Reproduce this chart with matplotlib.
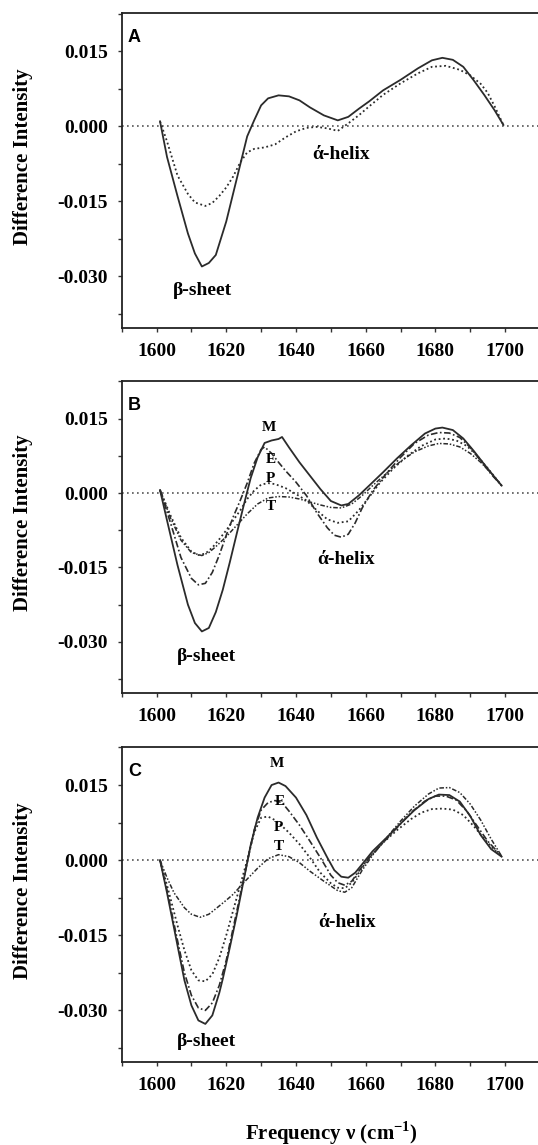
import matplotlib
matplotlib.use("Agg")
import matplotlib.pyplot as plt
from matplotlib.ticker import MultipleLocator

plt.rcParams['font.family'] = ['Liberation Serif', 'DejaVu Serif']
plt.rcParams['font.weight'] = 'bold'
plt.rcParams['mathtext.fontset'] = 'custom'
plt.rcParams['mathtext.rm'] = 'Liberation Serif:bold'
plt.rcParams['mathtext.bf'] = 'Liberation Serif:bold'

# Panel A: two spectra (solid / dotted)
nu_a_solid = [1601, 1603, 1606, 1609, 1611, 1613, 1615, 1617, 1620, 1623, 1626, 1628, 1630,
              1632, 1635, 1638, 1641, 1644, 1648, 1652, 1655, 1658, 1661, 1665, 1670, 1675,
              1679, 1682, 1685, 1688, 1691, 1694, 1697, 1699.5]
a_solid = [0.0010, -0.0061, -0.0139, -0.0214, -0.0254, -0.0280, -0.0273, -0.0257, -0.0190,
           -0.0105, -0.0020, 0.0012, 0.0042, 0.0056, 0.0062, 0.0060, 0.0052, 0.0038, 0.0022,
           0.0012, 0.0019, 0.0035, 0.0050, 0.0072, 0.0093, 0.0116, 0.0132, 0.0137, 0.0133,
           0.0119, 0.0092, 0.0063, 0.0032, 0.0003]
nu_a_dot = [1601, 1603, 1606, 1609, 1611, 1614, 1616, 1618, 1620, 1622, 1624, 1626, 1628,
            1631, 1634, 1637, 1640, 1643, 1646, 1649, 1652, 1655, 1658, 1661, 1665, 1670,
            1675, 1679, 1683, 1687, 1690, 1693, 1695, 1697, 1699.5]
a_dot = [0.0010, -0.0030, -0.0098, -0.0135, -0.0152, -0.0159, -0.0153, -0.0139, -0.0122,
         -0.0100, -0.0072, -0.0052, -0.0045, -0.0042, -0.0036, -0.0022, -0.0010, -0.0003,
         -0.0001, -0.0004, -0.0009, 0.0006, 0.0022, 0.0040, 0.0063, 0.0086, 0.0106, 0.0119,
         0.0121, 0.0113, 0.0102, 0.0085, 0.0067, 0.0040, 0.0003]

# Panel B: M, E, P, T
nu_b_m = [1601, 1603, 1606, 1609, 1611, 1613, 1615, 1617, 1619, 1621, 1623, 1625, 1627, 1629,
          1631, 1633, 1635, 1636, 1638, 1641, 1644, 1647, 1650, 1653, 1655, 1658, 1661, 1665,
          1669, 1673, 1677, 1680, 1682, 1685, 1688, 1691, 1694, 1697, 1699]
b_m = [0.0006, -0.0055, -0.0145, -0.0225, -0.0262, -0.0279, -0.0272, -0.0240, -0.0195,
       -0.0140, -0.0082, -0.0025, 0.0030, 0.0072, 0.0101, 0.0106, 0.0109, 0.0113, 0.0092,
       0.0062, 0.0035, 0.0008, -0.0016, -0.0025, -0.0022, -0.0005, 0.0015, 0.0042, 0.0070,
       0.0096, 0.0120, 0.0130, 0.0132, 0.0127, 0.0110, 0.0085, 0.0058, 0.0032, 0.0015]
nu_b_e = [1601, 1604, 1607, 1610, 1612, 1614, 1616, 1618, 1620, 1622, 1624, 1626, 1628, 1630,
          1631, 1633, 1635, 1637, 1640, 1643, 1646, 1649, 1651, 1653, 1655, 1657, 1659, 1662,
          1666, 1670, 1674, 1678, 1681, 1684, 1687, 1690, 1693, 1696, 1699]
b_e = [0.0006, -0.0060, -0.0130, -0.0172, -0.0185, -0.0182, -0.0160, -0.0125, -0.0085,
       -0.0048, -0.0015, 0.0020, 0.0060, 0.0088, 0.0093, 0.0080, 0.0062, 0.0045, 0.0022,
       -0.0005, -0.0040, -0.0070, -0.0085, -0.0089, -0.0083, -0.0060, -0.0030, 0.0005,
       0.0040, 0.0072, 0.0100, 0.0117, 0.0122, 0.0121, 0.0112, 0.0092, 0.0065, 0.0038, 0.0015]
nu_b_p = [1601, 1604, 1607, 1610, 1612, 1614, 1616, 1618, 1620, 1622, 1624, 1626, 1628, 1630,
          1632, 1634, 1637, 1640, 1643, 1646, 1649, 1652, 1655, 1658, 1661, 1664, 1668, 1672,
          1676, 1680, 1683, 1686, 1689, 1692, 1695, 1699]
b_p = [0.0006, -0.0045, -0.0090, -0.0118, -0.0125, -0.0122, -0.0110, -0.0093, -0.0075,
       -0.0055, -0.0035, -0.0012, 0.0005, 0.0017, 0.0020, 0.0018, 0.0010, -0.0002, -0.0015,
       -0.0035, -0.0053, -0.0060, -0.0057, -0.0035, -0.0008, 0.0020, 0.0050, 0.0075, 0.0095,
       0.0108, 0.0110, 0.0106, 0.0095, 0.0075, 0.0050, 0.0015]
nu_b_t = [1601, 1604, 1607, 1610, 1613, 1615, 1617, 1620, 1623, 1626, 1629, 1632, 1635, 1638,
          1641, 1644, 1647, 1650, 1653, 1656, 1659, 1662, 1666, 1670, 1674, 1678, 1681, 1684,
          1687, 1690, 1693, 1696, 1699]
b_t = [0.0006, -0.0050, -0.0095, -0.0120, -0.0126, -0.0120, -0.0108, -0.0088, -0.0065,
       -0.0042, -0.0022, -0.0010, -0.0007, -0.0008, -0.0012, -0.0018, -0.0024, -0.0029,
       -0.0030, -0.0022, -0.0005, 0.0015, 0.0040, 0.0064, 0.0083, 0.0095, 0.0100, 0.0099,
       0.0093, 0.0080, 0.0062, 0.0040, 0.0015]

# Panel C: M, E, P, T
nu_c_m = [1601, 1603, 1606, 1608, 1610, 1612, 1614, 1616, 1618, 1619, 1621, 1623, 1625, 1627,
          1629, 1631, 1633, 1635, 1637, 1640, 1643, 1646, 1649, 1651, 1653, 1655, 1657, 1659,
          1662, 1666, 1670, 1674, 1678, 1681, 1684, 1687, 1690, 1693, 1696, 1699]
c_m = [0.0000, -0.0065, -0.0170, -0.0240, -0.0290, -0.0320, -0.0327, -0.0310, -0.0265,
       -0.0237, -0.0175, -0.0110, -0.0040, 0.0030, 0.0085, 0.0125, 0.0150, 0.0155, 0.0148,
       0.0125, 0.0090, 0.0045, 0.0005, -0.0020, -0.0033, -0.0035, -0.0025, -0.0008, 0.0018,
       0.0045, 0.0073, 0.0100, 0.0122, 0.0131, 0.0130, 0.0117, 0.0088, 0.0050, 0.0022, 0.0007]
nu_c_e = [1601, 1603, 1606, 1608, 1610, 1612, 1614, 1616, 1618, 1620, 1622, 1624, 1626, 1628,
          1630, 1632, 1634, 1636, 1638, 1641, 1644, 1647, 1650, 1652, 1654, 1656, 1658, 1661,
          1665, 1669, 1673, 1677, 1680, 1683, 1686, 1689, 1692, 1695, 1699]
c_e = [0.0000, -0.0060, -0.0160, -0.0225, -0.0270, -0.0295, -0.0300, -0.0285, -0.0250,
       -0.0200, -0.0135, -0.0070, -0.0005, 0.0060, 0.0100, 0.0115, 0.0119, 0.0115, 0.0098,
       0.0070, 0.0038, 0.0005, -0.0030, -0.0045, -0.0050, -0.0042, -0.0022, 0.0005, 0.0035,
       0.0065, 0.0095, 0.0118, 0.0128, 0.0128, 0.0120, 0.0098, 0.0068, 0.0038, 0.0008]
nu_c_p = [1601, 1603, 1606, 1608, 1610, 1612, 1614, 1616, 1618, 1620, 1622, 1624, 1626, 1628,
          1630, 1632, 1634, 1636, 1638, 1641, 1644, 1647, 1650, 1652, 1654, 1656, 1658, 1661,
          1665, 1669, 1673, 1676, 1679, 1682, 1685, 1688, 1691, 1694, 1697, 1699]
c_p = [0.0000, -0.0050, -0.0130, -0.0180, -0.0220, -0.0240, -0.0242, -0.0228, -0.0195,
       -0.0150, -0.0100, -0.0050, 0.0000, 0.0055, 0.0085, 0.0087, 0.0080, 0.0068, 0.0055,
       0.0032, 0.0005, -0.0025, -0.0046, -0.0055, -0.0056, -0.0045, -0.0025, 0.0005, 0.0035,
       0.0060, 0.0082, 0.0095, 0.0102, 0.0103, 0.0101, 0.0090, 0.0068, 0.0043, 0.0020, 0.0008]
nu_c_t = [1601, 1603, 1605, 1608, 1610, 1612.5, 1615, 1617, 1620, 1622, 1625, 1629, 1632, 1635,
          1638, 1641, 1644, 1648, 1652, 1654, 1656, 1659, 1662, 1666, 1670, 1674, 1678, 1681,
          1684, 1687, 1690, 1693, 1696, 1699]
c_t = [0.0000, -0.0035, -0.0065, -0.0095, -0.0108, -0.0114, -0.0108, -0.0097, -0.0080,
       -0.0068, -0.0045, -0.0016, 0.0003, 0.0011, 0.0007, -0.0005, -0.0022, -0.0042, -0.0061,
       -0.0064, -0.0055, -0.0020, 0.0010, 0.0045, 0.0078, 0.0108, 0.0132, 0.0144, 0.0145,
       0.0135, 0.0112, 0.0080, 0.0042, 0.0008]

# label positions (nu, value)
mept_labels = ['M', 'E', 'P', 'T']
b_label_pos = [(1632.3, 0.0133), (1632.8, 0.0067), (1632.8, 0.0030), (1632.8, -0.0027)]
c_label_pos = [(1634.6, 0.0193), (1635.3, 0.0117), (1635.0, 0.0065), (1635.0, 0.0027)]

INK = '#2b2b2b'
STYLES = {
    'M': dict(ls='-', lw=1.3),
    'E': dict(ls=(0, (4, 1.5, 1, 1.5)), lw=1.2),
    'P': dict(ls=(0, (1, 1.5)), lw=1.3),
    'T': dict(ls=(0, (3, 1.2, 1, 1.2, 1, 1.2)), lw=1.1),
}

fig = plt.figure(figsize=(5.38, 11.45), dpi=100)
left, width = 0.2262, 0.7794
ax_a = fig.add_axes([left, 0.7135, width, 0.2749])
ax_b = fig.add_axes([left, 0.3948, width, 0.2725])
ax_c = fig.add_axes([left, 0.0725, width, 0.2751])


def style_axis(ax, letter):
    ax.set_xlim(1590, 1710.3)
    ax.set_ylim(-0.0403, 0.0226)
    ax.axhline(0, color='#555555', ls=(0, (1, 2)), lw=1.2, zorder=1)
    ax.xaxis.set_major_locator(MultipleLocator(20))
    ax.xaxis.set_minor_locator(MultipleLocator(10))
    ax.yaxis.set_major_locator(MultipleLocator(0.015))
    ax.yaxis.set_minor_locator(MultipleLocator(0.0075))
    ax.yaxis.set_major_formatter(plt.FuncFormatter(lambda v, p: f"{v:.3f}".replace('-0.000', '0.000')))
    ax.tick_params(which='both', direction='out', length=3, width=1, color='#333333')
    ax.tick_params(axis='x', labelsize=14, pad=8)
    ax.tick_params(axis='y', labelsize=14, pad=7)
    ax.spines['right'].set_visible(False)
    for s in ['top', 'left', 'bottom']:
        ax.spines[s].set_linewidth(1.3)
        ax.spines[s].set_color('#222222')
    ax.set_ylabel('Difference Intensity', fontsize=15, fontweight='bold')
    ax.yaxis.set_label_coords(-0.212, 0.545)
    ax.text(0.015, 0.95, letter, transform=ax.transAxes, fontsize=13, fontweight='bold',
            family=['Liberation Sans', 'DejaVu Sans'], va='top', ha='left')


# A
style_axis(ax_a, 'A')
ax_a.plot(nu_a_solid, a_solid, color=INK, **STYLES['M'])
ax_a.plot(nu_a_dot, a_dot, color=INK, **STYLES['P'])
ax_a.text(1613.3, -0.0327, 'β-sheet', fontsize=14, ha='center', va='center')
ax_a.text(1652.8, -0.0056, 'ά-helix', fontsize=14, ha='center', va='center')

# B
style_axis(ax_b, 'B')
for nu, vals, key in [(nu_b_m, b_m, 'M'), (nu_b_e, b_e, 'E'), (nu_b_p, b_p, 'P'), (nu_b_t, b_t, 'T')]:
    ax_b.plot(nu, vals, color=INK, **STYLES[key])
for lab, (x, y) in zip(mept_labels, b_label_pos):
    ax_b.text(x, y, lab, fontsize=11, ha='center', va='center')
ax_b.text(1654.3, -0.0133, 'ά-helix', fontsize=14, ha='center', va='center')
ax_b.text(1614.3, -0.0330, 'β-sheet', fontsize=14, ha='center', va='center')

# C
style_axis(ax_c, 'C')
for nu, vals, key in [(nu_c_m, c_m, 'M'), (nu_c_e, c_e, 'E'), (nu_c_p, c_p, 'P'), (nu_c_t, c_t, 'T')]:
    ax_c.plot(nu, vals, color=INK, **STYLES[key])
for lab, (x, y) in zip(mept_labels, c_label_pos):
    ax_c.text(x, y, lab, fontsize=11, ha='center', va='center')
ax_c.text(1654.8, -0.0125, 'ά-helix', fontsize=14, ha='center', va='center')
ax_c.text(1614.3, -0.0362, 'β-sheet', fontsize=14, ha='center', va='center')

fig.text(331 / 538, 1 - 1133 / 1145, r'Frequency ν (cm$^{-1}$)', fontsize=15,
         fontweight='bold', ha='center', va='center')

fig.savefig('out.png', dpi=100)
